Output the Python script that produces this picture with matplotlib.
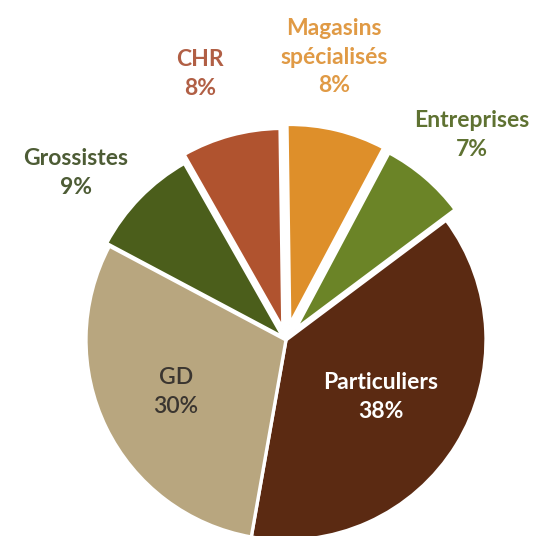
import matplotlib.pyplot as plt

# data
categories = ["Particuliers", "Entreprises", "Magasins\nspécialisés", "CHR", "Grossistes", "GD"]
shares = [38, 7, 8, 8, 9, 30]
wedge_colors = ["#5b2a12", "#6b8427", "#de8f2a", "#b0532f", "#4b5e1b", "#b8a67f"]
text_colors = ["white", "#5f7232", "#e09a45", "#b15f45", "#4d5c35", "#3a3530"]
text_weights = ["bold", "bold", "bold", "bold", "bold", "semibold"]
explode = [0.0, 0.07, 0.08, 0.06, 0.02, 0.0]

# label centres in pixels (x, y from top)
label_pos = [(381, 397), (472, 135), (334, 57), (200, 74), (76, 173), (176, 392)]

W, H = 546, 536
CX, CY, R = 286, 340, 200

fig = plt.figure(figsize=(W / 100, H / 100), dpi=100)
ax = fig.add_axes([0, 0, 1, 1])
ax.pie(shares, colors=wedge_colors, startangle=260, counterclock=True,
       explode=explode, radius=1.0,
       wedgeprops=dict(edgecolor="white", linewidth=2.4, joinstyle="miter"))
ax.set_aspect("auto")
ax.set_xlim(-CX / R, (W - CX) / R)
ax.set_ylim(-(H - CY) / R, CY / R)
ax.axis("off")

for cat, s, c, w, (px, py) in zip(categories, shares, text_colors, text_weights, label_pos):
    fig.text(px / W, 1 - py / H, f"{cat}\n{s}%", ha="center", va="center",
             color=c, fontsize=16.5, fontweight=w, family="Lato",
             linespacing=1.45)

fig.savefig("out.png", dpi=100, facecolor="white")
